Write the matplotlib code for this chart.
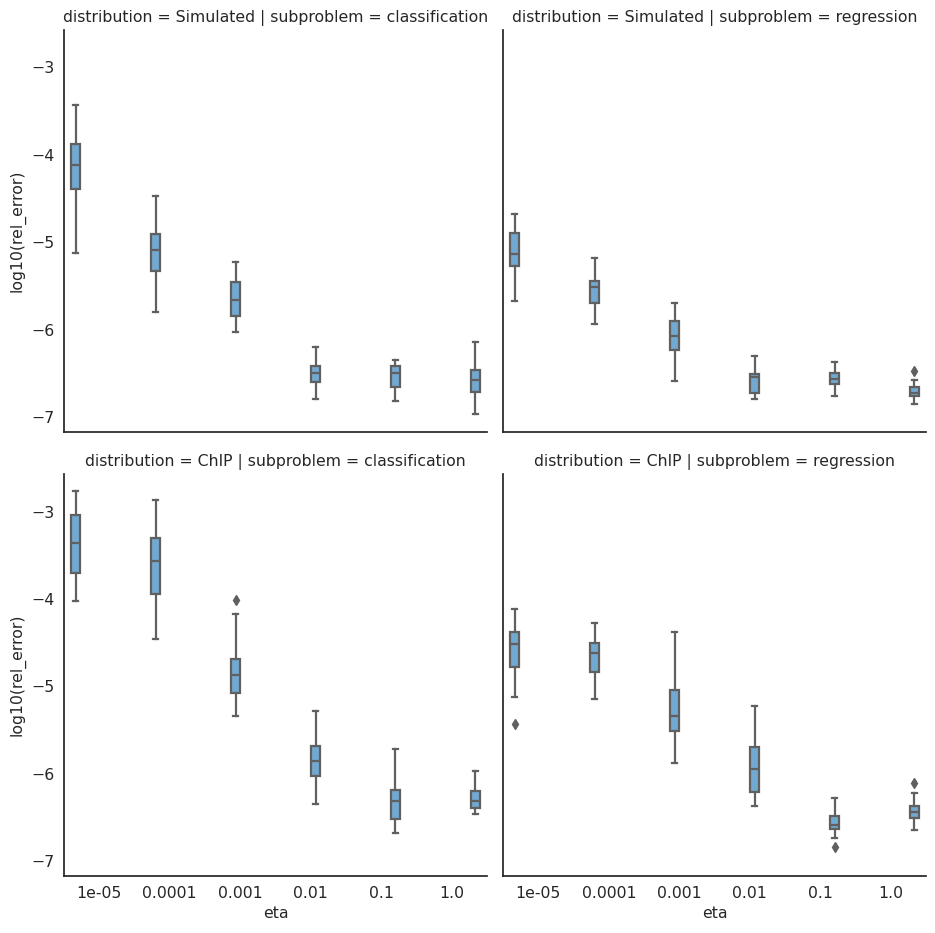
import matplotlib
matplotlib.use("Agg")
import matplotlib.pyplot as plt

# eta categories on the x axis
etas = ["1e-05", "0.0001", "0.001", "0.01", "0.1", "1.0"]
distributions = ["Simulated", "ChIP"]
subproblems = ["classification", "regression"]

# box summaries of log10(rel_error), one list per facet:
# (whisker low, q1, median, q3, whisker high)
sim_class = [(-5.12, -4.39, -4.12, -3.88, -3.43),
             (-5.80, -5.33, -5.09, -4.90, -4.47),
             (-6.03, -5.84, -5.66, -5.45, -5.22),
             (-6.79, -6.60, -6.49, -6.41, -6.20),
             (-6.81, -6.65, -6.50, -6.41, -6.35),
             (-6.96, -6.71, -6.57, -6.46, -6.14)]
sim_reg = [(-5.67, -5.27, -5.13, -4.89, -4.68),
           (-5.94, -5.69, -5.51, -5.44, -5.18),
           (-6.59, -6.23, -6.07, -5.90, -5.70),
           (-6.79, -6.72, -6.54, -6.51, -6.30),
           (-6.76, -6.62, -6.56, -6.50, -6.37),
           (-6.85, -6.76, -6.72, -6.66, -6.58)]
chip_class = [(-4.02, -3.70, -3.36, -3.04, -2.77),
              (-4.46, -3.94, -3.57, -3.30, -2.87),
              (-5.34, -5.08, -4.87, -4.69, -4.17),
              (-6.34, -6.03, -5.85, -5.68, -5.28),
              (-6.68, -6.52, -6.31, -6.19, -5.72),
              (-6.46, -6.39, -6.31, -6.20, -5.97)]
chip_reg = [(-5.12, -4.78, -4.51, -4.38, -4.12),
            (-5.14, -4.83, -4.62, -4.50, -4.27),
            (-5.88, -5.51, -5.34, -5.04, -4.38),
            (-6.37, -6.21, -5.95, -5.69, -5.22),
            (-6.73, -6.63, -6.59, -6.48, -6.28),
            (-6.64, -6.50, -6.44, -6.37, -6.22)]

# outliers beyond the whiskers
sim_class_out = [[], [], [], [], [], []]
sim_reg_out = [[], [], [], [], [], [-6.47]]
chip_class_out = [[], [], [-4.01], [], [], []]
chip_reg_out = [[-5.43], [], [], [], [-6.84], [-6.11]]

facets = {
    ("Simulated", "classification"): (sim_class, sim_class_out),
    ("Simulated", "regression"): (sim_reg, sim_reg_out),
    ("ChIP", "classification"): (chip_class, chip_class_out),
    ("ChIP", "regression"): (chip_reg, chip_reg_out),
}

text_color = "#262626"
line_color = "#606060"
box_color = "#72a9d0"
fs = 11.3

plt.rcParams["font.family"] = "DejaVu Sans"
plt.rcParams["font.size"] = fs

# eta is used as hue as well, so each box sits in its own dodge slot
n = len(etas)
slot = 0.8 / n
positions = [i - 0.4 + slot * (i + 0.5) for i in range(n)]

fig = plt.figure(figsize=(9.35, 9.33), dpi=100)
lefts = [0.0684, 0.538]
bottoms = [0.537, 0.061]
w, h = 0.4526, 0.431

for r, dist in enumerate(distributions):
    for c, sub in enumerate(subproblems):
        ax = fig.add_axes([lefts[c], bottoms[r], w, h])
        boxes, outs = facets[(dist, sub)]
        stats = []
        for (lo, q1, med, q3, hi), fl in zip(boxes, outs):
            stats.append(dict(whislo=lo, q1=q1, med=med, q3=q3, whishi=hi, fliers=fl))
        ax.bxp(stats, positions=positions, widths=slot * 0.98, patch_artist=True,
               manage_ticks=False,
               boxprops=dict(facecolor=box_color, edgecolor=line_color, linewidth=1.6),
               medianprops=dict(color=line_color, linewidth=1.6),
               whiskerprops=dict(color=line_color, linewidth=1.6),
               capprops=dict(color=line_color, linewidth=1.6),
               flierprops=dict(marker="d", markerfacecolor=line_color,
                               markeredgecolor=line_color, markersize=5))
        ax.set_xlim(-0.5, n - 0.5)
        ax.set_ylim(-7.17, -2.57)
        ax.set_yticks([-7, -6, -5, -4, -3])
        ax.set_xticks(range(n))
        ax.set_title(f"distribution = {dist} | subproblem = {sub}",
                     color=text_color, fontsize=fs, pad=6)
        for s in ["top", "right"]:
            ax.spines[s].set_visible(False)
        for s in ["left", "bottom"]:
            ax.spines[s].set_color(text_color)
            ax.spines[s].set_linewidth(1.25)
        ax.tick_params(length=0, pad=7, colors=text_color, labelsize=fs)
        if r == 1:
            ax.set_xticklabels(etas)
            ax.set_xlabel("eta", color=text_color, fontsize=fs)
        else:
            ax.set_xticklabels([])
        if c == 0:
            ax.set_ylabel("log10(rel_error)", color=text_color, fontsize=fs)
        else:
            ax.set_yticklabels([])

fig.savefig("out.png", dpi=100)
